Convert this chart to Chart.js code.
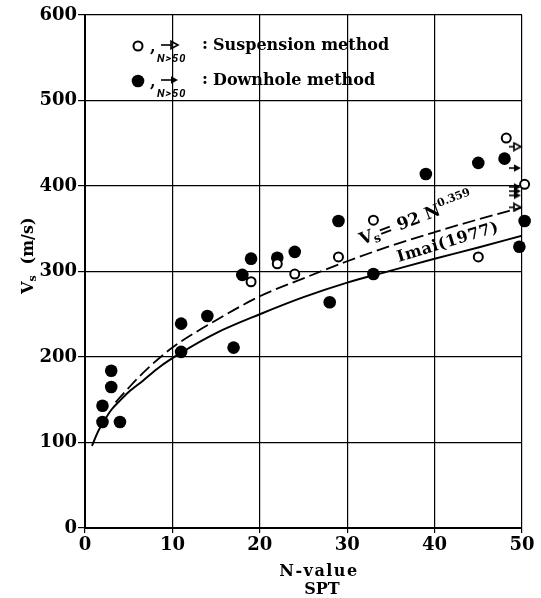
<!DOCTYPE html>
<html>
<head>
<meta charset="utf-8">
<script src="https://cdn.jsdelivr.net/npm/chart.js@4.4.1/dist/chart.umd.min.js"></script>
<style>
  html, body { margin: 0; padding: 0; background: #fff; }
  #wrap { width: 541px; height: 598px; }
</style>
</head>
<body>
<div id="wrap"><canvas id="vsChart" width="541" height="598"></canvas></div>
<script>
// SPT N-value vs shear wave velocity Vs (m/s)
const xTicks = [0, 10, 20, 30, 40, 50];
const yTicks = [0, 100, 200, 300, 400, 500, 600];

// open circles - suspension method
const suspN  = [19, 22, 24, 29, 33, 45, 48.2, 50.3, 50.3];
const suspVs = [288, 309, 297, 317, 360, 317, 456, 402, 329];

// filled circles - downhole method
const downN  = [2, 2, 3, 3, 4, 11, 11, 14, 17, 18, 19, 22, 24, 28, 29, 33, 39, 45, 48, 50.3, 49.7];
const downVs = [124, 143, 184, 165, 124, 239, 206, 248, 211, 296, 315, 316, 323, 264, 359, 297, 414, 427, 432, 359, 329];

// arrows at right edge (N > 50)
const arrowN = 49.3;
const suspArrowVs = [446, 375];
const downArrowVs = [421, 399, 394, 389];

// Vs = 92 N^0.359 (dashed curve)
const fitN  = [3.5, 5, 7, 10, 15, 20, 25, 30, 35, 40, 45, 50];
const fitVs = [147, 164, 185, 211, 243, 271, 292, 312, 330, 346, 361, 375];

// Imai (1977) (solid curve)
const imaiN  = [0.8, 1.5, 2, 3, 4, 5, 6.6, 8.5, 11, 15, 20, 25, 30, 35, 40, 45, 50];
const imaiVs = [96, 113, 122, 138, 149, 159, 172, 188, 205, 228, 250, 270, 287, 301, 315, 328, 342];

const SERIF = '"DejaVu Serif", serif';

function pts(xs, ys) {
  return xs.map((x, i) => ({ x: x, y: ys[i] }));
}

function arrowMarker(filled, len) {
  const c = document.createElement("canvas");
  c.width = len + 2;
  c.height = 10;
  const g = c.getContext("2d");
  g.strokeStyle = "#000";
  g.fillStyle = "#000";
  g.lineWidth = 1.6;
  const headStart = len - 7;
  g.beginPath();
  g.moveTo(0, 5);
  g.lineTo(headStart + 1, 5);
  g.stroke();
  g.beginPath();
  g.moveTo(headStart, 1.3);
  g.lineTo(len, 5);
  g.lineTo(headStart, 8.7);
  g.closePath();
  if (filled) g.fill();
  else g.stroke();
  return c;
}

const openArrow = arrowMarker(false, 12);
const fillArrow = arrowMarker(true, 12);

// draws text pieces (normal / sub / sup) one after another
function drawPieces(ctx, pieces) {
  let x = 0;
  for (const p of pieces) {
    ctx.font = "bold " + p.size + "px " + SERIF;
    ctx.fillText(p.t, x, p.dy || 0);
    x += ctx.measureText(p.t).width + (p.gap || 0);
  }
}

const textPlugin = {
  id: "texts",
  afterDraw(chart) {
    const ctx = chart.ctx;
    const xs = chart.scales.x;
    const ys = chart.scales.y;
    ctx.save();
    ctx.fillStyle = "#000";
    ctx.textBaseline = "alphabetic";

    // x axis title
    ctx.textAlign = "center";
    ctx.font = "bold 16px " + SERIF;
    ctx.letterSpacing = "1.5px";
    ctx.fillText("N-value", 319, 576);
    ctx.letterSpacing = "0px";
    ctx.fillText("SPT", 322, 594);

    // y axis title
    ctx.textAlign = "left";
    ctx.save();
    ctx.translate(33, 294);
    ctx.rotate(-Math.PI / 2);
    drawPieces(ctx, [
      { t: "V", size: 16 },
      { t: "s", size: 11, dy: 3, gap: 11 },
      { t: "(m/s)", size: 16 },
    ]);
    ctx.restore();

    // label of fitted curve
    ctx.save();
    ctx.translate(xs.getPixelForValue(31.7), ys.getPixelForValue(331));
    ctx.rotate((-21 * Math.PI) / 180);
    drawPieces(ctx, [
      { t: "V", size: 17 },
      { t: "s", size: 12, dy: 3 },
      { t: "= 92 N", size: 17 },
      { t: "0.359", size: 11, dy: -8 },
    ]);
    ctx.restore();

    // Imai label
    ctx.save();
    ctx.translate(xs.getPixelForValue(35.9), ys.getPixelForValue(311));
    ctx.rotate((-17 * Math.PI) / 180);
    ctx.font = "bold 16px " + SERIF;
    ctx.letterSpacing = "0.5px";
    ctx.fillText("Imai(1977)", 0, 0);
    ctx.restore();

    // legend
    const rows = [
      { y: 46, filled: false, text: "Suspension method" },
      { y: 81, filled: true, text: "Downhole method" },
    ];
    const legArrowOpen = arrowMarker(false, 17);
    const legArrowFill = arrowMarker(true, 17);
    for (const r of rows) {
      ctx.beginPath();
      ctx.lineWidth = 2;
      ctx.strokeStyle = "#000";
      if (r.filled) {
        ctx.arc(138, r.y, 6.3, 0, Math.PI * 2);
        ctx.fill();
      } else {
        ctx.arc(138, r.y, 4.5, 0, Math.PI * 2);
        ctx.stroke();
      }
      ctx.font = "bold 16px " + SERIF;
      ctx.fillText(",", 150, r.y + 6);
      ctx.drawImage(r.filled ? legArrowFill : legArrowOpen, 161, r.y - 6);
      ctx.font = "italic bold 11px Roboto, sans-serif";
      ctx.letterSpacing = "1px";
      ctx.fillText("N>50", 157, r.y + 16);
      ctx.letterSpacing = "0px";
      ctx.font = "bold 16px " + SERIF;
      ctx.fillText(":", 202, r.y + 3);
      ctx.fillText(r.text, 213, r.y + 4);
    }
    ctx.restore();
  },
};

const ctx = document.getElementById("vsChart").getContext("2d");
const vsChart = new Chart(ctx, {
  type: "scatter",
  data: {
    datasets: [
      {
        label: "Suspension",
        data: pts(suspN, suspVs),
        pointStyle: "circle",
        pointRadius: 4.5,
        pointBorderWidth: 2,
        pointBackgroundColor: "#fff",
        pointBorderColor: "#000",
        clip: false,
      },
      {
        label: "Downhole",
        data: pts(downN, downVs),
        pointStyle: "circle",
        pointRadius: 6.3,
        pointBorderWidth: 0,
        pointBackgroundColor: "#000",
        pointBorderColor: "#000",
        clip: false,
      },
      {
        label: "Suspension N>50",
        data: suspArrowVs.map((v) => ({ x: arrowN, y: v })),
        pointStyle: openArrow,
        clip: false,
      },
      {
        label: "Downhole N>50",
        data: downArrowVs.map((v) => ({ x: arrowN, y: v })),
        pointStyle: fillArrow,
        clip: false,
      },
      {
        type: "line",
        label: "Vs = 92 N^0.359",
        data: pts(fitN, fitVs),
        borderColor: "#000",
        borderWidth: 1.8,
        borderDash: [13, 5],
        pointRadius: 0,
        tension: 0.4,
        cubicInterpolationMode: "monotone",
        fill: false,
      },
      {
        type: "line",
        label: "Imai (1977)",
        data: pts(imaiN, imaiVs),
        borderColor: "#000",
        borderWidth: 2,
        pointRadius: 0,
        tension: 0.4,
        cubicInterpolationMode: "monotone",
        fill: false,
      },
    ],
  },
  options: {
    responsive: false,
    animation: false,
    layout: { padding: { top: 15, right: 19, left: 0, bottom: 0 } },
    plugins: {
      legend: { display: false },
      tooltip: { enabled: false },
    },
    scales: {
      x: {
        type: "linear",
        min: 0,
        max: 50,
        afterBuildTicks: (axis) => {
          axis.ticks = xTicks.map((v) => ({ value: v }));
        },
        afterFit: (axis) => {
          axis.height = 70;
        },
        ticks: {
          color: "#000",
          font: { family: SERIF, size: 18, weight: "bold" },
          padding: 2,
          maxRotation: 0,
        },
        grid: { color: "#000", lineWidth: 1.2, tickLength: 5 },
        border: { color: "#000", width: 2 },
      },
      y: {
        type: "linear",
        min: 0,
        max: 600,
        afterBuildTicks: (axis) => {
          axis.ticks = yTicks.map((v) => ({ value: v }));
        },
        afterFit: (axis) => {
          axis.width = 85;
        },
        ticks: {
          color: "#000",
          font: { family: SERIF, size: 18, weight: "bold" },
          padding: 1,
        },
        grid: { color: "#000", lineWidth: 1.2, tickLength: 7 },
        border: { color: "#000", width: 2 },
      },
    },
  },
  plugins: [textPlugin],
});
</script>
</body>
</html>
